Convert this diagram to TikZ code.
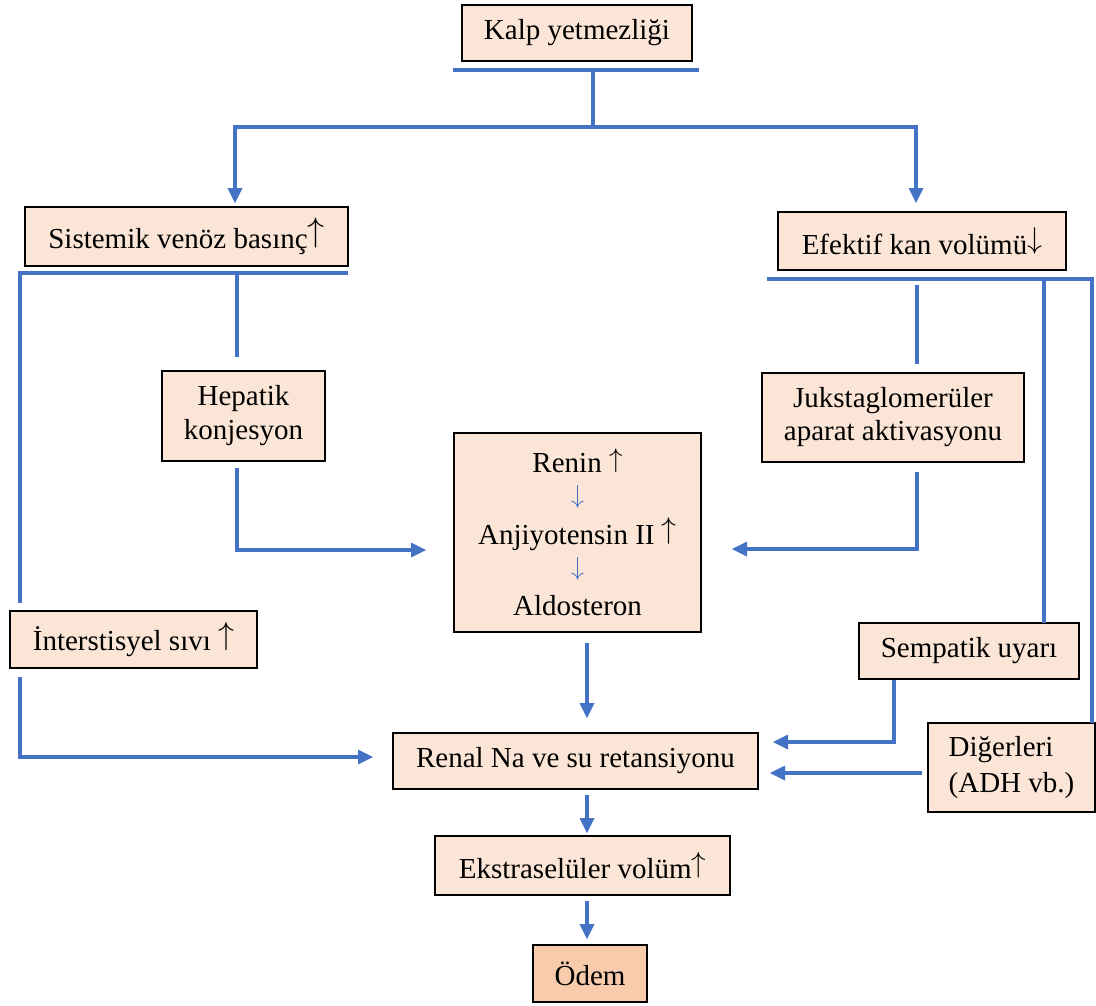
\documentclass[tikz,border=0pt]{standalone}
\usepackage{fontspec}
\setmainfont{Liberation Serif}
\usetikzlibrary{arrows.meta}
\definecolor{boxfill}{HTML}{FBE5D6}
\definecolor{odemfill}{HTML}{F8CBAD}
\definecolor{lineblue}{HTML}{4472C4}
% thin arrows standing on the baseline, scaled from a 10pt arrow
\newcommand\uparr[1]{\raisebox{\depth}{\scalebox{#1}{\fontsize{10}{12}\selectfont$\uparrow$}}}
\newcommand\downarr[1]{\raisebox{\depth}{\scalebox{#1}{\fontsize{10}{12}\selectfont$\downarrow$}}}
\begin{document}
\begin{tikzpicture}[x=1pt,y=-1pt,
  box/.style={draw=black, line width=2.5pt, fill=boxfill, inner sep=0pt, outer sep=0pt,
    align=center, font=\fontsize{29}{35}\selectfont},
  conn/.style={draw=lineblue, line width=4pt},
  arr/.style={conn, -{Triangle[length=15pt,width=15pt,line width=0pt]}}]
\useasboundingbox (0,0) rectangle (1096,1005);

% boxes
\node[box, minimum width=230pt, minimum height=56pt] (kalp) at (577,33) {Kalp yetmezliği};
\node[box, minimum width=323pt, minimum height=59pt] (sist) at (186.5,236.5) {Sistemik venöz basınç\uparr{3.4}};
\node[box, minimum width=288pt, minimum height=58pt] (efek) at (922,241) {Efektif kan volümü\downarr{3.0}};
\node[box, minimum width=163pt, minimum height=90pt, font=\fontsize{29}{34}\selectfont] (hep) at (243.5,416) {Hepatik\\konjesyon};
\node[box, minimum width=262pt, minimum height=89pt, font=\fontsize{29}{33}\selectfont] (juk) at (893,417.5) {Jukstaglomerüler\\aparat aktivasyonu};
\node[box, minimum width=247pt, minimum height=199pt, font=\fontsize{29}{35.7}\selectfont] (raas) at (577.5,532.5)
  {Renin \uparr{2.7}\\{\color{lineblue}\downarr{2.6}}\\Anjiyotensin II \uparr{3.0}\\{\color{lineblue}\downarr{2.6}}\\Aldosteron};
\node[box, minimum width=247pt, minimum height=57pt] (inter) at (133.5,639.5) {İnterstisyel sıvı \uparr{3.2}};
\node[box, minimum width=220pt, minimum height=56pt] (semp) at (969,651) {Sempatik uyarı};
\node[box, minimum width=167pt, minimum height=89pt, align=left, font=\fontsize{29}{36}\selectfont] (diger) at (1011.5,767.5) {Diğerleri\\(ADH vb.)};
\node[box, minimum width=365pt, minimum height=56pt] (renal) at (575.5,761) {Renal Na ve su retansiyonu};
\node[box, minimum width=295pt, minimum height=59pt] (ekst) at (582.5,865.5) {Ekstraselüler volüm\uparr{2.9}};
\node[box, fill=odemfill, minimum width=114pt, minimum height=57pt] (odem) at (590,973.5) {Ödem};

% junction points
\coordinate (kbarL) at (453,70);
\coordinate (kbarR) at (699,70);
\coordinate (ktop) at (593,70);
\coordinate (kbot) at (593,127);
\coordinate (hL) at (235,127);
\coordinate (hR) at (916,127);
\coordinate (sbarR) at (348,273);
\coordinate (sL) at (20,273);
\coordinate (sH) at (237,273);
\coordinate (hj) at (237,550);
\coordinate (ij) at (20,757);
\coordinate (ebarL) at (767,279);
\coordinate (eR) at (1092,279);
\coordinate (eS) at (1044,279);
\coordinate (eJ) at (917,285);
\coordinate (jj) at (917,549);
\coordinate (pj) at (894,742);
\coordinate (dy) at (0,773);
\coordinate (sp) at (587,0);

% heart failure branches
\draw[conn] (kbarL) -- (kbarR);
\draw[conn] (ktop) -- (kbot);
\draw[arr, shorten >=4pt] (kbot) -- (hL) -- (sist.north -| hL);
\draw[arr, shorten >=9pt] (kbot) -- (hR) -- (efek.north -| hR);

% venous side
\draw[conn, shorten >=8pt] (sbarR) -- (sL) -- (inter.north -| sL);
\draw[conn, shorten >=14pt] (sH) -- (hep.north -| sH);
\draw[arr, shorten <=7pt, shorten >=28pt] (hep.south -| sH) -- (hj) -- (raas.west |- hj);
\draw[arr, shorten <=9pt, shorten >=20pt] (inter.south -| ij) -- (ij) -- (renal.west |- ij);

% effective volume side
\draw[conn] (ebarL) -- (eR) -- (diger.north -| eR);
\draw[conn] (eS) -- (semp.north -| eS);
\draw[conn, shorten >=9pt] (eJ) -- (juk.north -| eJ);
\draw[arr, shorten <=10pt, shorten >=31pt] (juk.south -| eJ) -- (jj) -- (raas.east |- jj);
\draw[arr, shorten <=1pt, shorten >=15pt] (semp.south -| pj) -- (pj) -- (renal.east |- pj);
\draw[arr, shorten <=6pt, shorten >=12pt] (diger.west |- dy) -- (renal.east |- dy);

% central chain
\draw[arr, shorten <=11pt, shorten >=15pt] (raas.south -| sp) -- (renal.north -| sp);
\draw[arr, shorten <=6pt, shorten >=3pt] (renal.south -| sp) -- (ekst.north -| sp);
\draw[arr, shorten <=6pt, shorten >=6pt] (ekst.south -| sp) -- (odem.north -| sp);
\end{tikzpicture}
\end{document}
